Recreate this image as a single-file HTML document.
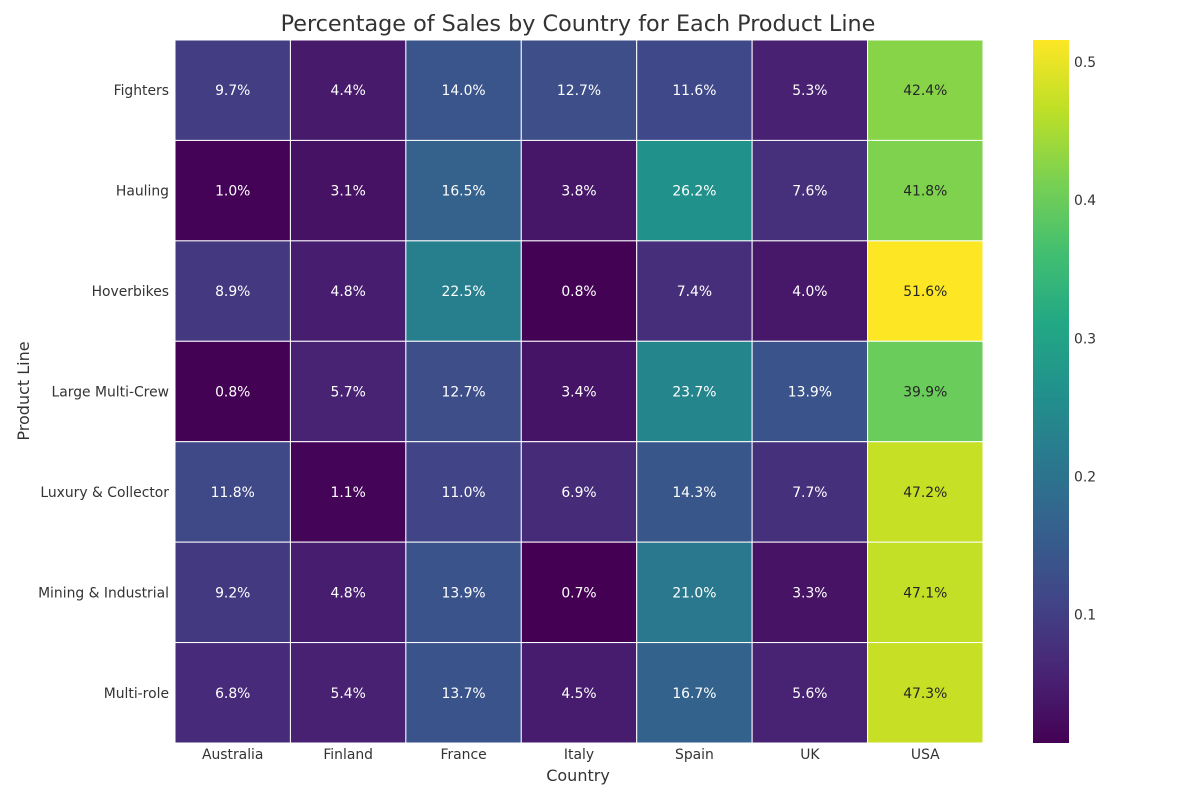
<!DOCTYPE html>
<html><head><meta charset="utf-8"><style>
body{margin:0;background:#fff;}
text{font-family:"DejaVu Sans","Liberation Sans",sans-serif;}
</style></head><body>
<svg id="chart" width="1200" height="800" xmlns="http://www.w3.org/2000/svg"></svg>
<script>
const countries=["Australia","Finland","France","Italy","Spain","UK","USA"];
const productLines=["Fighters","Hauling","Hoverbikes","Large Multi-Crew","Luxury & Collector","Mining & Industrial","Multi-role"];
const rowFighters=[9.7,4.4,14.0,12.7,11.6,5.3,42.4];
const rowHauling=[1.0,3.1,16.5,3.8,26.2,7.6,41.8];
const rowHoverbikes=[8.9,4.8,22.5,0.8,7.4,4.0,51.6];
const rowLargeMultiCrew=[0.8,5.7,12.7,3.4,23.7,13.9,39.9];
const rowLuxury=[11.8,1.1,11.0,6.9,14.3,7.7,47.2];
const rowMining=[9.2,4.8,13.9,0.7,21.0,3.3,47.1];
const rowMultirole=[6.8,5.4,13.7,4.5,16.7,5.6,47.3];
const values=[rowFighters,rowHauling,rowHoverbikes,rowLargeMultiCrew,rowLuxury,rowMining,rowMultirole];
const colorbarTicks=[0.1,0.2,0.3,0.4,0.5];

const NS="http://www.w3.org/2000/svg";
const svg=document.getElementById('chart');
function el(tag,attrs,parent){const e=document.createElementNS(NS,tag);for(const k in attrs)e.setAttribute(k,attrs[k]);(parent||svg).appendChild(e);return e;}
const stops=["#440154","#482475","#414487","#355f8d","#2a788e","#21918c","#22a884","#44bf70","#7ad151","#bddf26","#fde725"];
function hex(h){return [1,3,5].map(i=>parseInt(h.substr(i,2),16));}
function viridis(t){t=Math.max(0,Math.min(1,t));const p=t*10,i=Math.min(9,Math.floor(p)),f=p-i;const a=hex(stops[i]),b=hex(stops[i+1]);return a.map((v,k)=>Math.round(v+(b[k]-v)*f));}
const all=values.flat().map(v=>v/100);
const vmin=Math.min(...all),vmax=Math.max(...all);
const X0=175,X1=983,Y0=40,Y1=743;
const cw=(X1-X0)/countries.length,ch=(Y1-Y0)/productLines.length;
const xPos=i=>X0+i*cw, yPos=j=>Y0+j*ch;

const t=el('text',{x:578,y:31,'text-anchor':'middle','font-size':22.3,fill:'#333'});t.textContent="Percentage of Sales by Country for Each Product Line";



values.forEach((row,j)=>{row.forEach((v,i)=>{
  const c=viridis((v/100-vmin)/(vmax-vmin));
  const r=el('rect',{x:xPos(i),y:yPos(j),width:cw,height:ch,fill:`rgb(${c})`,stroke:'#fff','stroke-width':1});
  
  
  const lum=0.2126*c[0]+0.7152*c[1]+0.0722*c[2];
  const tx=el('text',{x:xPos(i)+cw/2,y:yPos(j)+ch/2+5,'text-anchor':'middle','font-size':13.9,fill:lum>130?'#262626':'#fff'});
  tx.textContent=v.toFixed(1)+'%';
  
  
});});

countries.forEach((c,i)=>{const tx=el('text',{x:xPos(i)+cw/2,y:759,'text-anchor':'middle','font-size':13.9,fill:'#333'});tx.textContent=c;

});
productLines.forEach((p,j)=>{const tx=el('text',{x:169,y:yPos(j)+ch/2+5,'text-anchor':'end','font-size':13.9,fill:'#333'});tx.textContent=p;

});

const xt=el('text',{x:578,y:781,'text-anchor':'middle','font-size':16,fill:'#333'});xt.textContent="Country";


const yt=el('text',{x:29,y:391,'text-anchor':'middle','font-size':16,fill:'#333',transform:'rotate(-90 29 391)'});yt.textContent="Product Line";



const CB0=1033,CBW=36;
const defs=el('defs',{});
const g=el('linearGradient',{id:'vg',x1:0,y1:1,x2:0,y2:0},defs);
for(let k=0;k<=20;k++){const c=viridis(k/20);el('stop',{offset:(k/20),'stop-color':`rgb(${c})`},g);}
const cb=el('rect',{x:CB0,y:Y0,width:CBW,height:Y1-Y0,fill:'url(#vg)'});


const cbY=v=>Y1-(v-vmin)/(vmax-vmin)*(Y1-Y0);
colorbarTicks.forEach(v=>{
  const tx=el('text',{x:CB0+CBW+5,y:cbY(v)+5,'font-size':13.9,fill:'#333'});tx.textContent=v.toFixed(1);
  
  
});
</script>
</body></html>
